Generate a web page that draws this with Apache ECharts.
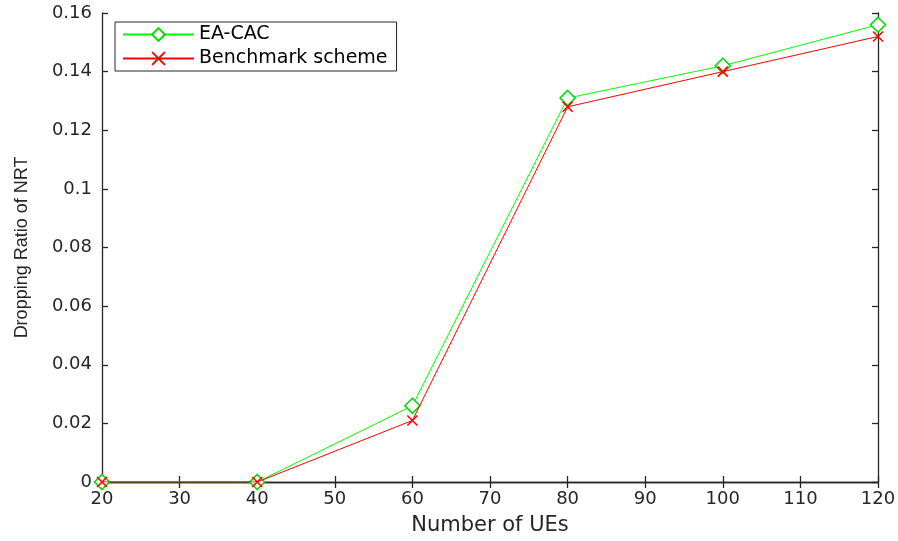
<!DOCTYPE html>
<html>
<head>
<meta charset="utf-8">
<title>index</title>
<style>
    html, body { margin: 0; padding: 0; background: #fff; }
    #container { width: 898px; height: 541px; }
</style>
</head>
<body>
<div id="container"></div>
<script src="https://cdn.jsdelivr.net/npm/echarts@6/dist/echarts.min.js"></script>
<script type="text/javascript">
    var ues = [20, 40, 60, 80, 100, 120];
    var eaCac = [0, 0, 0.026, 0.131, 0.142, 0.156];
    var benchmark = [0, 0, 0.021, 0.128, 0.140, 0.152];

    function pairs(ys) {
        return ues.map(function (x, i) { return [x, ys[i]]; });
    }

    var axisColor = '#262626';
    var font = 'DejaVu Sans, sans-serif';
    var crossPath = 'path://M0,0L10,10M10,0L0,10';

    var myChart = echarts.init(document.getElementById('container'));

    var option = {
        backgroundColor: '#fff',
        animation: false,
        textStyle: { fontFamily: font, color: axisColor },
        grid: {
            left: 102, right: 20, top: 13, bottom: 59,
            show: false,
            outerBoundsMode: 'none'
        },
        legend: {
            left: 115, top: 22,
            orient: 'vertical',
            backgroundColor: '#fff',
            borderColor: axisColor,
            borderWidth: 1,
            borderRadius: 0,
            padding: [3, 9, 3, 7],
            itemGap: 5,
            itemWidth: 71,
            itemHeight: 16,
            textStyle: { fontSize: 19, color: '#000', fontFamily: font },
            data: ['EA-CAC', 'Benchmark scheme']
        },
        xAxis: [{
            type: 'value',
            min: 20, max: 120, interval: 10,
            position: 'bottom',
            name: 'Number of UEs',
            nameLocation: 'middle',
            nameGap: 33,
            nameTextStyle: { fontSize: 21, color: axisColor },
            axisLine: { lineStyle: { color: axisColor, width: 1.3 } },
            axisTick: { inside: true, length: 6, lineStyle: { color: axisColor, width: 1.3 } },
            axisLabel: { fontSize: 18, color: axisColor, margin: 8 },
            splitLine: { show: false }
        }, {
            type: 'value',
            min: 20, max: 120, interval: 10,
            position: 'top',
            axisLine: { show: true, lineStyle: { color: axisColor, width: 1.3 } },
            axisTick: { show: true, inside: true, length: 6, lineStyle: { color: axisColor, width: 1.3 } },
            axisLabel: { show: false },
            splitLine: { show: false }
        }],
        yAxis: [{
            type: 'value',
            min: 0, max: 0.16, interval: 0.02,
            position: 'left',
            name: 'Dropping Ratio of NRT',
            nameLocation: 'middle',
            nameGap: 71,
            nameTextStyle: { fontSize: 18, color: axisColor, fontFamily: 'Liberation Sans, Arial, sans-serif' },
            axisLine: { lineStyle: { color: axisColor, width: 1.3 } },
            axisTick: { inside: true, length: 6, lineStyle: { color: axisColor, width: 1.3 } },
            axisLabel: {
                fontSize: 18, color: axisColor, margin: 10,
                formatter: function (v) { return String(+v.toFixed(2)); }
            },
            splitLine: { show: false }
        }, {
            type: 'value',
            min: 0, max: 0.16, interval: 0.02,
            position: 'right',
            axisLine: { show: true, lineStyle: { color: axisColor, width: 1.3 } },
            axisTick: { show: true, inside: true, length: 6, lineStyle: { color: axisColor, width: 1.3 } },
            axisLabel: { show: false },
            splitLine: { show: false }
        }],
        series: [{
            name: 'EA-CAC',
            type: 'line',
            data: pairs(eaCac),
            symbol: 'diamond',
            symbolSize: 15,
            showAllSymbol: true,
            lineStyle: { color: '#00ff00', width: 1 },
            itemStyle: { color: '#fff', borderColor: '#00dd00', borderWidth: 1.6 },
            z: 3
        }, {
            name: 'Benchmark scheme',
            type: 'line',
            data: pairs(benchmark),
            symbol: crossPath,
            symbolSize: 10,
            showAllSymbol: true,
            lineStyle: { color: '#ff0000', width: 1 },
            itemStyle: { color: 'none', borderColor: '#ff0000', borderWidth: 1.6 },
            z: 4
        }]
    };

    myChart.setOption(option, true);
</script>
</body>
</html>
